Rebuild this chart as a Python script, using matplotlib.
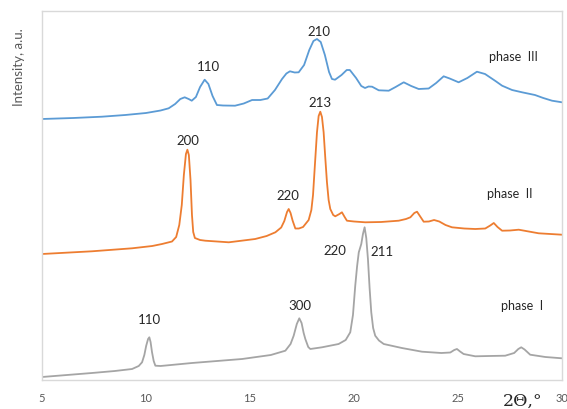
import matplotlib
matplotlib.use("Agg")
import matplotlib.pyplot as plt

# ---- data (intensity in arbitrary units, offset per phase) ----
x_phase3 = [5.0, 6.5, 7.88, 9.0, 10.0, 10.7, 11.09, 11.4, 11.65, 11.86, 12.05, 12.2, 12.4,
            12.6, 12.82, 13.0, 13.2, 13.41, 13.7, 14.28, 14.7, 15.10, 15.5, 15.85, 16.2,
            16.54, 16.75, 16.92, 17.15, 17.34, 17.6, 17.85, 18.05, 18.22, 18.4, 18.6, 18.8,
            18.94, 19.09, 19.4, 19.65, 19.8, 20.1, 20.35, 20.53, 20.7, 20.87, 21.19, 21.67,
            22.0, 22.39, 22.75, 23.11, 23.59, 23.95, 24.31, 24.6, 25.03, 25.45, 25.91, 26.3,
            26.8, 27.12, 27.6, 28.08, 28.70, 29.1, 29.52, 30.0]
y_phase3 = [261, 262, 263.3, 265, 267, 269.5, 271.7, 276, 281, 282.7, 281, 279.3, 283,
            293, 300.3, 296, 284, 275, 274.5, 274.3, 276.5, 280, 280, 281.5, 290,
            301, 306.5, 308.7, 307.5, 307.7, 315, 330, 339, 341, 338, 325, 308,
            301, 300.3, 305, 310, 310, 302, 294, 292, 293.5, 293.3, 289.7, 289.3,
            293, 297.7, 294, 291, 291.5, 297, 303.7, 301.5, 297.7, 302, 308.3, 306,
            299, 294.3, 290, 287.7, 285, 282, 279.3, 277.7]

x_phase2 = [5.0, 7.40, 9.33, 10.3, 10.77, 11.25, 11.45, 11.6, 11.72, 11.82, 11.92, 11.99,
            12.06, 12.14, 12.21, 12.27, 12.35, 12.6, 12.85, 13.98, 15.25, 15.8, 16.22, 16.5,
            16.65, 16.78, 16.86, 16.95, 17.05, 17.18, 17.35, 17.55, 17.82, 17.95, 18.03,
            18.12, 18.22, 18.30, 18.38, 18.46, 18.54, 18.62, 18.70, 18.78, 18.86, 19.0,
            19.10, 19.3, 19.42, 19.55, 19.66, 20.0, 20.54, 21.3, 22.15, 22.5, 22.71, 22.9,
            23.03, 23.2, 23.35, 23.6, 23.85, 24.1, 24.4, 24.71, 25.3, 25.83, 26.31, 26.55,
            26.72, 26.9, 27.12, 27.5, 27.92, 28.4, 28.88, 30.0]
y_phase2 = [126, 128.7, 131.7, 134, 136, 138.5, 143, 155, 175, 205, 226, 230.3,
            225, 200, 165, 148, 142, 140, 139.3, 137.7, 141, 144, 147.7, 152.5,
            159, 168, 171, 167, 159.3, 151.5, 151.5, 153, 160, 170, 185,
            215, 247.7, 264, 268.3, 263, 247.7, 222, 197.7, 180, 171, 165,
            163.7, 166, 167.7, 163, 159.3, 158.5, 157.7, 158, 159.3, 161, 162.7, 167,
            168.3, 163, 158.3, 158.5, 160, 158.5, 155, 152.7, 151.5, 151, 151.5, 154.5,
            157, 153, 149.3, 149.5, 150.3, 148.5, 146.7, 145.3]

x_phase1 = [5.0, 7.40, 8.5, 9.33, 9.65, 9.81, 9.92, 10.01, 10.1, 10.16, 10.22, 10.29, 10.37,
            10.45, 10.7, 12.21, 14.62, 16.0, 16.70, 16.95, 17.10, 17.25, 17.37, 17.48, 17.58,
            17.66, 17.80, 17.90, 18.46, 19.26, 19.6, 19.82, 19.95, 20.06, 20.15, 20.23,
            20.35, 20.43, 20.51, 20.59, 20.67, 20.75, 20.83, 20.92, 21.02, 21.2, 21.43,
            22.3, 23.27, 24.2, 24.63, 24.82, 24.95, 25.1, 25.27, 25.83, 26.5, 27.27, 27.7,
            27.9, 28.04, 28.2, 28.47, 29.2, 30.0]
y_phase1 = [3, 7, 9, 11, 14, 17.7, 25, 34.3, 41, 42.7, 38, 27.7, 19,
            14.3, 14, 17, 21, 25, 29.3, 36, 44.3, 56, 61.7, 57, 47,
            41, 33, 31, 32.7, 36, 40, 47.7, 65, 94.3, 114, 127.7,
            136, 146, 152.7, 142, 121, 92, 67.7, 52, 44.3, 39.5, 36,
            32, 28.3, 27, 27.5, 30, 31, 28.5, 26, 23.7, 24, 24.3, 27,
            31, 32.7, 30.5, 25.3, 23, 21.7]

# peak labels: (text, x, y)
labels_phase3 = [("110", 13.01, 314.3), ("210", 18.30, 349.3)]
labels_phase2 = [("200", 12.02, 240.3), ("220", 16.83, 185), ("213", 18.38, 277.7)]
labels_phase1 = [("110", 10.16, 61), ("300", 17.39, 75), ("220", 19.10, 130.3),
                 ("211", 21.35, 128.7)]
phase_names = [("phase  III", 27.68, 324.3), ("phase  II", 27.51, 187), ("phase  I", 28.08, 75)]

x_ticks = [5, 10, 15, 20, 25, 30]

# ---- figure ----
W, H = 567, 410
fig = plt.figure(figsize=(W / 100, H / 100), dpi=100)
ax = fig.add_axes([42 / W, 1 - 381 / H, (562 - 42) / W, (381 - 12) / H])

c3, c2, c1 = "#5B9BD5", "#ED7D31", "#A5A5A5"
ax.plot(x_phase3, y_phase3, color=c3, lw=1.3)
ax.plot(x_phase2, y_phase2, color=c2, lw=1.3)
ax.plot(x_phase1, y_phase1, color=c1, lw=1.3)

font = ["Lato", "DejaVu Sans"]
tcol = "#262626"
for lab in (labels_phase3, labels_phase2, labels_phase1):
    for t, x, y in lab:
        ax.text(x, y, t, ha="center", va="center", fontsize=9.5, color=tcol, family=font)
for t, x, y in phase_names:
    ax.text(x, y, t, ha="center", va="center", fontsize=9, color=tcol, family=font)

ax.set_xlim(5, 30)
ax.set_ylim(0, 369)
ax.set_xticks(x_ticks)
ax.set_xticklabels([str(v) for v in x_ticks], fontsize=8, color="#595959", family=font)
ax.tick_params(axis="x", length=0, pad=9)
ax.set_yticks([])
for s in ax.spines.values():
    s.set_color("#D9D9D9")
    s.set_linewidth(1.0)

fig.text(19 / W, 1 - 67 / H, "Intensity, a.u.", rotation=90, ha="center", va="center",
         fontsize=9.5, color="#595959", family=font)
fig.text(523 / W, 1 - 401 / H, "2Θ,°", ha="center", va="center", fontsize=12.5,
         color="#262626", family=["DejaVu Serif"])

fig.savefig("out.png", dpi=100)
